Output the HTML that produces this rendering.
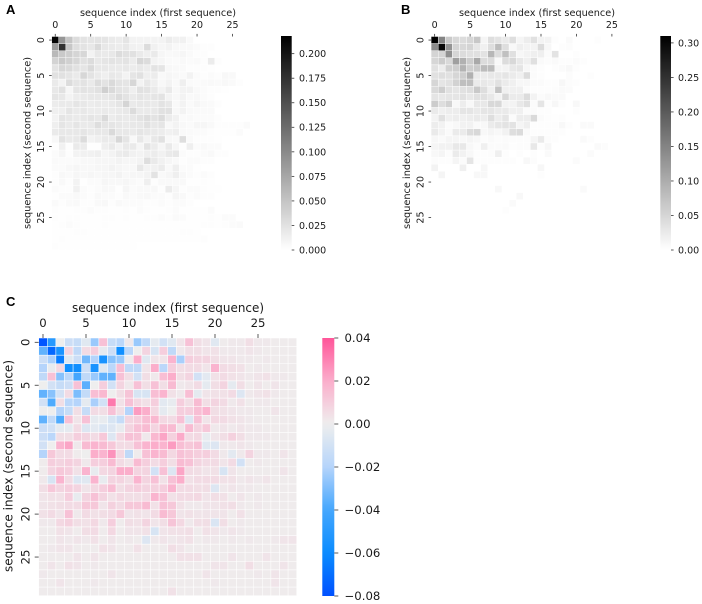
<!DOCTYPE html>
<html>
<head>
<meta charset="utf-8">
<title>Sequence index heatmaps</title>
<style>
html,body{margin:0;padding:0;background:#fff;}
svg{display:block;filter:blur(0.3px);}
text{font-family:"DejaVu Sans","Liberation Sans",sans-serif;fill:#1a1a1a;}
.letter{font-family:"Liberation Sans",sans-serif;font-weight:bold;fill:#000;}
</style>
</head>
<body>
<svg id="fig" xmlns="http://www.w3.org/2000/svg" width="702" height="604" viewBox="0 0 702 604">
<defs id="defs"></defs>
<text class="letter" x="6" y="14" font-size="13">A</text>
<text class="letter" x="401" y="14" font-size="13">B</text>
<text class="letter" x="6" y="306" font-size="13">C</text>
</svg>
<script>
// Values in thousandths; cells omitted at the end of a row are zero.
const valuesA = [
[215,90,50,30,24,22,24,22,18,16,22,10,10,10,10,10,16,12,12,5],
[85,175,48,28,24,20,32,20,18,16,20,12,11,30,12,8,10,6,5,5,3,2,2],
[60,46,42,36,34,10,20,18,20,30,26,26,18,14,18,8,5,6,8,4,2,2],
[38,46,40,34,26,30,20,22,24,22,24,16,34,30,10,8,4,3,5,3,4,2,16,2],
[24,34,32,26,22,32,20,20,18,18,20,16,20,16,24,22,6,5,4,2,2,2,1],
[26,26,22,18,34,24,18,14,20,18,10,22,26,14,16,5,8,6,4,10,3,2,3,2,6,5],
[18,10,30,22,24,18,30,24,32,24,22,34,10,20,14,6,10,5,14,4,3,4,5,4,6,4,2],
[20,26,8,22,24,22,26,40,32,24,22,14,26,24,18,10,18,6,10,10,5,3,2,2,1],
[22,20,10,16,18,20,20,20,22,30,24,18,22,20,22,24,10,6,10,5,6,3,2],
[16,18,18,22,20,16,18,16,18,22,36,18,20,20,18,24,20,5,10,4,8,5,4,2],
[14,14,22,18,20,16,16,18,16,18,20,30,18,18,20,26,26,6,10,5,4,4,4],
[10,22,20,18,20,22,20,32,16,20,18,20,24,28,24,30,16,12,4,5,3,3,3,2],
[14,22,18,22,18,18,28,22,22,20,18,20,20,26,20,22,6,10,6,4,8,8,5,2,2,2,2,4],
[18,20,20,20,22,18,20,20,32,20,20,18,22,20,18,16,12,14,5,4,3,3,2,1,1,1,3],
[6,24,18,20,30,10,14,18,16,34,22,6,20,10,20,26,6,5,28,4,2,2,2,1],
[1,12,2,18,16,1,1,14,18,10,18,18,8,24,16,8,18,8,2,14,3,5,3,3],
[3,8,2,10,12,12,14,8,10,16,18,12,10,14,16,12,18,20,3,2,2,3,5,2,2],
[4,3,3,4,6,6,8,8,8,10,8,8,10,28,18,12,8,5,2,3,3,2,2],
[3,3,6,8,6,6,8,8,10,8,6,6,20,10,12,16,5,14,3,3,1],
[2,6,4,8,6,8,6,8,8,10,6,8,8,10,24,5,8,14,6,3,2,3,2],
[2,5,2,10,1,3,3,8,6,6,8,5,3,14,2,5,5,5,5,1,1,2,1],
[3,2,2,12,3,2,3,6,5,1,8,3,5,5,6,2,16,8,2,3,3,2,1,1],
[1,3,3,5,3,2,5,3,3,2,5,3,5,6,3,3,2,8,5,2,3,2,2],
[4,2,4,5,2,2,5,6,2,5,3,3,3,2,2,3,2,3,3,2],
[2,1,1,2,2,3,2,2,1,1,2,1,3,2,1,1,2,3,1,1,1,1,3],
[2,1,2,2,1,1,1,2,2,1,2,1,1,2,2,3,2,4,3,1,1,1,2,1,3,3],
[1,2,3,2,1,1,1,2,1,1,1,1,1,1,1,1,1,1,1,1,1,2,2,1,2,3,4],
[1,1,1,2,2,1,1,1,1,1,1,1,1,1,1,1,1,1,2,2,1],
[1,2,1,1,1,1,1,1,1,1,1,1,1,1,1,1,1,1,1,1,1,2],
[2,1,1,1,1,1,1,1,1,1,1,1]
];
const valuesB = [
[310,150,65,48,42,50,68,12,40,34,26,40,12,22,36,14,14,3,0,6,0,0,0,2],
[140,300,130,52,48,52,30,18,40,80,40,8,20,15,14,42,10,0,2,4],
[52,52,135,50,42,38,38,34,88,42,76,38,10,14,20,20,5,34,0,0,3],
[50,62,46,115,95,62,105,42,42,8,42,48,28,18,38,6,4,6,3,3,5,2],
[36,22,56,60,92,60,65,82,82,14,14,28,32,10,5,2,0,3,5,8,2],
[36,40,36,50,60,95,24,24,28,28,32,24,18,42,5,2,0,0,0,4,0,0,2],
[50,32,36,55,78,78,24,28,24,36,24,18,10,10,5,5,3,2,10,4,2],
[45,60,36,32,36,40,66,40,18,72,18,18,18,5,2,3,2,4,6,5],
[32,28,32,32,36,28,36,36,28,14,48,24,24,42,14,5,8,6,6],
[62,40,55,8,22,8,28,28,48,48,14,14,28,38,5,32,2,10,2,0,8],
[26,18,22,22,32,32,26,32,32,26,26,18,18,5,5,3,2,0,0,0,3],
[14,36,18,22,18,22,26,22,40,22,32,5,22,22,45,5,2,1,2,0,0,0,0],
[22,16,5,8,16,16,6,8,24,30,34,34,12,20,2,2,2,2,8,2,0,6,6],
[26,14,6,24,24,42,48,8,12,8,16,40,44,6,2,3,3,3,2],
[10,6,12,12,8,12,8,4,6,4,5,4,4,4,12,26,4,2,0,0,0,6,2],
[12,16,16,28,28,8,4,18,5,5,6,2,4,4,28,2,10,0,0,0,0,0,0,6,4],
[8,12,4,24,16,8,3,2,4,20,2,0,2,0,3,0,6,0,0,0,0,0,5],
[4,2,2,12,5,32,2,2,2,2,3,2,0,8,4,0,0,0,0,0,5],
[14,0,0,0,18,0,0,10,0,0,0,0,0,0,0,10,0,0],
[0,12,0,0,0,0,8,8,0,0,0,0,0,0,0,2],
[],
[0,0,0,0,0,0,0,0,0,8,0,0,0,0,0,0,0,0,0,0,0,6],
[0,0,0,0,0,0,0,0,0,0,0,0,8],
[0,0,0,0,0,0,0,0,0,0,0,6],
[0,0,0,0,0,0,0,0,0,0,3],
[],[],[],[],[]
];
const valuesC = [
[-78,-50,0,-12,-14,-5,-25,14,-14,-18,2,-25,-16,-3,-10,-5,3,14,5,3,-5,1,2,2,5,2,2,1,1,1],
[-35,-72,-55,8,-16,6,10,-3,-12,-58,-18,0,8,-8,10,-16,2,5,5,3,4,2,2,2,3,2,1,1,1,1],
[-12,-22,-65,-5,-12,-32,-20,-55,-28,-25,1,20,-5,3,3,18,-22,10,8,8,5,3,3,2,2,1,2,1,1,1],
[-20,-2,7,-58,-58,-12,-55,-5,-18,15,-16,-16,3,20,-18,10,5,6,6,3,18,6,5,4,1,2,1,1,1,1],
[-16,14,-28,-18,-40,-16,-25,-35,-35,14,5,-10,5,2,15,20,5,8,-10,-4,4,6,4,3,2,3,4,2,2,1],
[0,-10,-14,-12,14,-36,0,10,-10,8,2,14,5,14,5,16,2,3,6,-3,5,8,-3,5,1,3,1,3,1,1],
[-35,-28,-10,6,-30,-15,15,17,0,5,13,-8,-8,15,18,4,2,15,-3,3,4,4,6,-6,2,3,4,2,1,1],
[-10,-38,5,-18,-20,-3,-22,-10,32,4,14,7,4,10,-4,-2,10,5,16,5,8,6,2,4,1,2,2,1,1,1],
[0,0,-20,-14,5,-14,6,5,14,5,-20,24,20,7,-3,0,10,10,15,18,5,4,3,2,2,1,1,3,1,1],
[-35,-16,-38,14,3,14,-3,-2,-8,-14,8,10,15,17,7,6,14,-6,14,3,7,6,4,3,2,1,1,1,1,1],
[-12,-10,-3,-3,6,-6,-4,-7,-6,-2,8,14,16,8,16,16,3,16,8,12,2,3,2,3,2,2,1,1,1,1],
[-12,-18,5,5,10,8,6,12,-6,7,14,13,2,17,22,9,21,6,7,-2,3,5,9,5,2,2,2,1,1,1],
[-10,0,18,22,2,16,18,16,12,6,6,14,18,20,18,24,15,12,14,-5,-6,2,2,3,2,1,1,1,1,1],
[-20,12,6,6,1,0,20,18,26,7,-16,1,14,18,16,7,14,12,10,10,6,2,-4,2,8,2,2,1,3,1],
[1,10,8,10,8,2,10,10,16,6,3,16,10,6,10,5,16,14,8,6,6,3,6,-10,1,2,1,1,1,1],
[1,8,12,10,4,18,-2,7,8,20,20,8,8,-10,14,-6,22,6,5,3,4,-8,3,1,1,1,1,1,3,1],
[2,-8,18,6,-6,-5,18,-2,8,8,5,18,8,14,4,14,20,4,6,6,6,4,4,2,3,2,3,1,1,1],
[5,12,8,10,8,3,7,10,15,5,8,10,8,9,10,18,6,6,5,5,-6,2,3,2,2,1,1,1,1,1],
[3,4,4,10,-2,8,14,8,4,7,5,5,6,18,14,4,6,6,7,3,5,4,1,3,1,2,1,1,1,1],
[3,4,5,6,6,12,12,3,9,6,12,12,16,4,14,12,4,2,2,3,3,4,5,2,1,2,1,1,1,1],
[4,6,3,14,2,6,4,5,6,12,3,4,3,6,16,12,3,4,3,3,3,3,1,4,1,1,1,1,1,1],
[2,2,7,9,5,4,7,2,10,1,5,4,8,3,5,13,7,2,5,5,-7,5,1,2,1,1,1,1,1,1],
[1,1,4,3,1,5,6,1,7,1,3,3,4,-8,3,4,4,5,1,4,3,2,3,2,1,1,1,1,1,1],
[1,1,3,2,3,2,4,1,3,1,2,1,-6,2,3,2,3,4,1,2,2,1,2,1,2,1,1,2,3,3],
[1,2,3,3,1,1,1,4,3,1,1,4,1,1,1,5,3,1,1,1,1,1,1,1,1,1,1,1,1,1],
[1,1,1,1,3,1,3,1,1,1,1,1,1,1,1,1,4,4,4,1,1,1,3,1,1,1,3,1,1,1],
[1,3,1,4,3,1,2,1,1,1,1,1,1,1,1,1,1,1,1,1,3,3,1,1,5,1,1,1,3,1],
[2,1,1,1,1,1,1,1,3,1,1,1,1,1,1,1,1,1,1,3,1,1,1,1,1,2,1,3,1,1],
[1,1,3,1,1,1,2,1,1,1,1,1,1,1,1,1,1,1,1,1,2,1,1,1,1,1,1,3,1,1],
[1,1,1,1,1,1,1,1,1,1,1,1,1,1,1,4,1,1,1,1,1,1,1,1,1,1,1,1,1,1]
];
const xTickLabels = ["0","5","10","15","20","25"];
const yTickLabels = ["0","5","10","15","20","25"];
const colorbarTicksA = [0,0.025,0.05,0.075,0.1,0.125,0.15,0.175,0.2];
const colorbarTicksB = [0,0.05,0.1,0.15,0.2,0.25,0.3];
const colorbarTicksC = [-0.08,-0.06,-0.04,-0.02,0,0.02,0.04];
const xTitle = "sequence index (first sequence)";
const yTitle = "sequence index (second sequence)";

const NS = "http://www.w3.org/2000/svg";
const fig = document.getElementById("fig");
const defs = document.getElementById("defs");
const N = 30;

function make(tag, parent, attrs) {
  const el = document.createElementNS(NS, tag);
  for (const k in attrs) el.setAttribute(k, attrs[k]);
  parent.appendChild(el);
  return el;
}
function grayColor(vmax) {
  return function (v) {
    const g = Math.round(255 * (1 - Math.min(1, Math.max(0, v / vmax))));
    return "rgb(" + g + "," + g + "," + g + ")";
  };
}
const divStops = [
  [-0.08, [0, 80, 255]], [-0.06, [10, 140, 255]], [-0.04, [69, 166, 253]],
  [-0.02, [181, 212, 251]], [0, [238, 238, 238]], [0.02, [251, 174, 203]], [0.04, [255, 85, 153]]
];
function divColor(v) {
  let i = 0;
  while (i < divStops.length - 2 && v > divStops[i + 1][0]) i++;
  const a = divStops[i], b = divStops[i + 1];
  const t = Math.min(1, Math.max(0, (v - a[0]) / (b[0] - a[0])));
  const c = a[1].map(function (x, j) { return Math.round(x + (b[1][j] - x) * t); });
  return "rgb(" + c.join(",") + ")";
}
function formatTick(v, digits) {
  return (v < 0 ? "\u2212" : "") + Math.abs(v).toFixed(digits);
}

function drawPanel(p) {
  const g = make("g", fig, {});
  
  
  const xs = function (i) { return p.x + p.cell * i; };
  const ys = function (i) { return p.y + p.cellY * i; };

  // heatmap cells
  const cells = make("g", g, { stroke: "#fff", "stroke-width": p.gap });
  
  
  p.values.forEach(function (row, r) {
    for (let c = 0; c < N; c++) {
      const v = (row[c] || 0) / 1000;
      const cell = make("rect", cells, { x: xs(c), y: ys(r), width: p.cell, height: p.cellY, fill: p.color(v) });
      
      
    }
  });

  // x ticks
  xTickLabels.forEach(function (lab) {
    const cx = xs(+lab + 0.5);
    const tick = make("line", g, { x1: cx, x2: cx, y1: p.y, y2: p.y - p.tick, stroke: "#333", "stroke-width": 0.8 });
    
    
    const t = make("text", g, { x: cx, y: p.xLabelY, "font-size": p.font, "text-anchor": "middle" });
    
    
    t.textContent = lab;
  });
  // y ticks
  yTickLabels.forEach(function (lab) {
    const cy = ys(+lab + 0.5);
    const tick = make("line", g, { x1: p.x, x2: p.x - p.tick, y1: cy, y2: cy, stroke: "#333", "stroke-width": 0.8 });
    
    
    const t = make("text", g, { transform: "translate(" + p.yLabelX + "," + cy + ") rotate(-90)", "font-size": p.font, "text-anchor": "middle" });
    
    
    t.textContent = lab;
  });
  // titles
  const xt = make("text", g, { x: p.xTitleX, y: p.xTitleY, "font-size": p.titleFont, textLength: p.xTitleLen, lengthAdjust: "spacingAndGlyphs" });
  
  
  xt.textContent = xTitle;
  const yt = make("text", g, { transform: "translate(" + p.yTitleX + "," + p.yTitleY + ") rotate(-90)", "font-size": p.titleFont, "text-anchor": "middle", textLength: p.yTitleLen, lengthAdjust: "spacingAndGlyphs" });
  
  
  yt.textContent = yTitle;

  // colorbar
  const grad = make("linearGradient", defs, { id: p.name + "-grad", x1: 0, y1: 1, x2: 0, y2: 0 });
  for (let i = 0; i <= 40; i++) {
    const f = i / 40;
    make("stop", grad, { offset: f, "stop-color": p.color(p.cbMin + (p.cbMax - p.cbMin) * f) });
  }
  const bar = make("rect", g, { x: p.cbX, y: p.cbTop, width: p.cbW, height: p.cbBottom - p.cbTop, fill: "url(#" + p.name + "-grad)" });
  
  
  const cbScale = function (v) { return p.cbBottom - (v - p.cbMin) / (p.cbMax - p.cbMin) * (p.cbBottom - p.cbTop); };
  p.cbTicks.forEach(function (v) {
    const ty = cbScale(v);
    const tick = make("line", g, { x1: p.cbX + p.cbW, x2: p.cbX + p.cbW + p.tick, y1: ty, y2: ty, stroke: "#333", "stroke-width": 0.8 });
    
    
    const t = make("text", g, { x: p.cbLabelX, y: ty + p.font * 0.36, "font-size": p.font });
    
    
    t.textContent = formatTick(v, p.cbDigits);
  });
}

drawPanel({
  name: "panel-a", values: valuesA, color: grayColor(0.218),
  x: 51.7, y: 36.5, cell: 7.09, cellY: 7.1, gap: 0.4, tick: 2.6, font: 9.5, titleFont: 9.8,
  xLabelY: 28, yLabelX: 44.2, xTitleX: 80, xTitleY: 16, xTitleLen: 156,
  yTitleX: 30.5, yTitleY: 143, yTitleLen: 172,
  cbX: 281, cbW: 10.7, cbTop: 36, cbBottom: 250, cbMin: 0, cbMax: 0.218,
  cbTicks: colorbarTicksA, cbDigits: 3, cbLabelX: 299
});
drawPanel({
  name: "panel-b", values: valuesB, color: grayColor(0.31),
  x: 431.1, y: 36.5, cell: 7.09, cellY: 7.1, gap: 0.4, tick: 2.6, font: 9.5, titleFont: 9.8,
  xLabelY: 28, yLabelX: 423.6, xTitleX: 459, xTitleY: 16, xTitleLen: 156,
  yTitleX: 410, yTitleY: 143, yTitleLen: 172,
  cbX: 660.3, cbW: 10.7, cbTop: 36, cbBottom: 250, cbMin: 0, cbMax: 0.31,
  cbTicks: colorbarTicksB, cbDigits: 2, cbLabelX: 678
});
drawPanel({
  name: "panel-c", values: valuesC, color: divColor,
  x: 38.7, y: 338, cell: 8.6, cellY: 8.59, gap: 0.5, tick: 4, font: 11.7, titleFont: 12,
  xLabelY: 327, yLabelX: 29.6, xTitleX: 72, xTitleY: 312, xTitleLen: 192,
  yTitleX: 12.5, yTitleY: 466, yTitleLen: 212,
  cbX: 322.3, cbW: 12, cbTop: 338, cbBottom: 596, cbMin: -0.08, cbMax: 0.04,
  cbTicks: colorbarTicksC, cbDigits: 2, cbLabelX: 344.5
});
</script>
</body>
</html>
